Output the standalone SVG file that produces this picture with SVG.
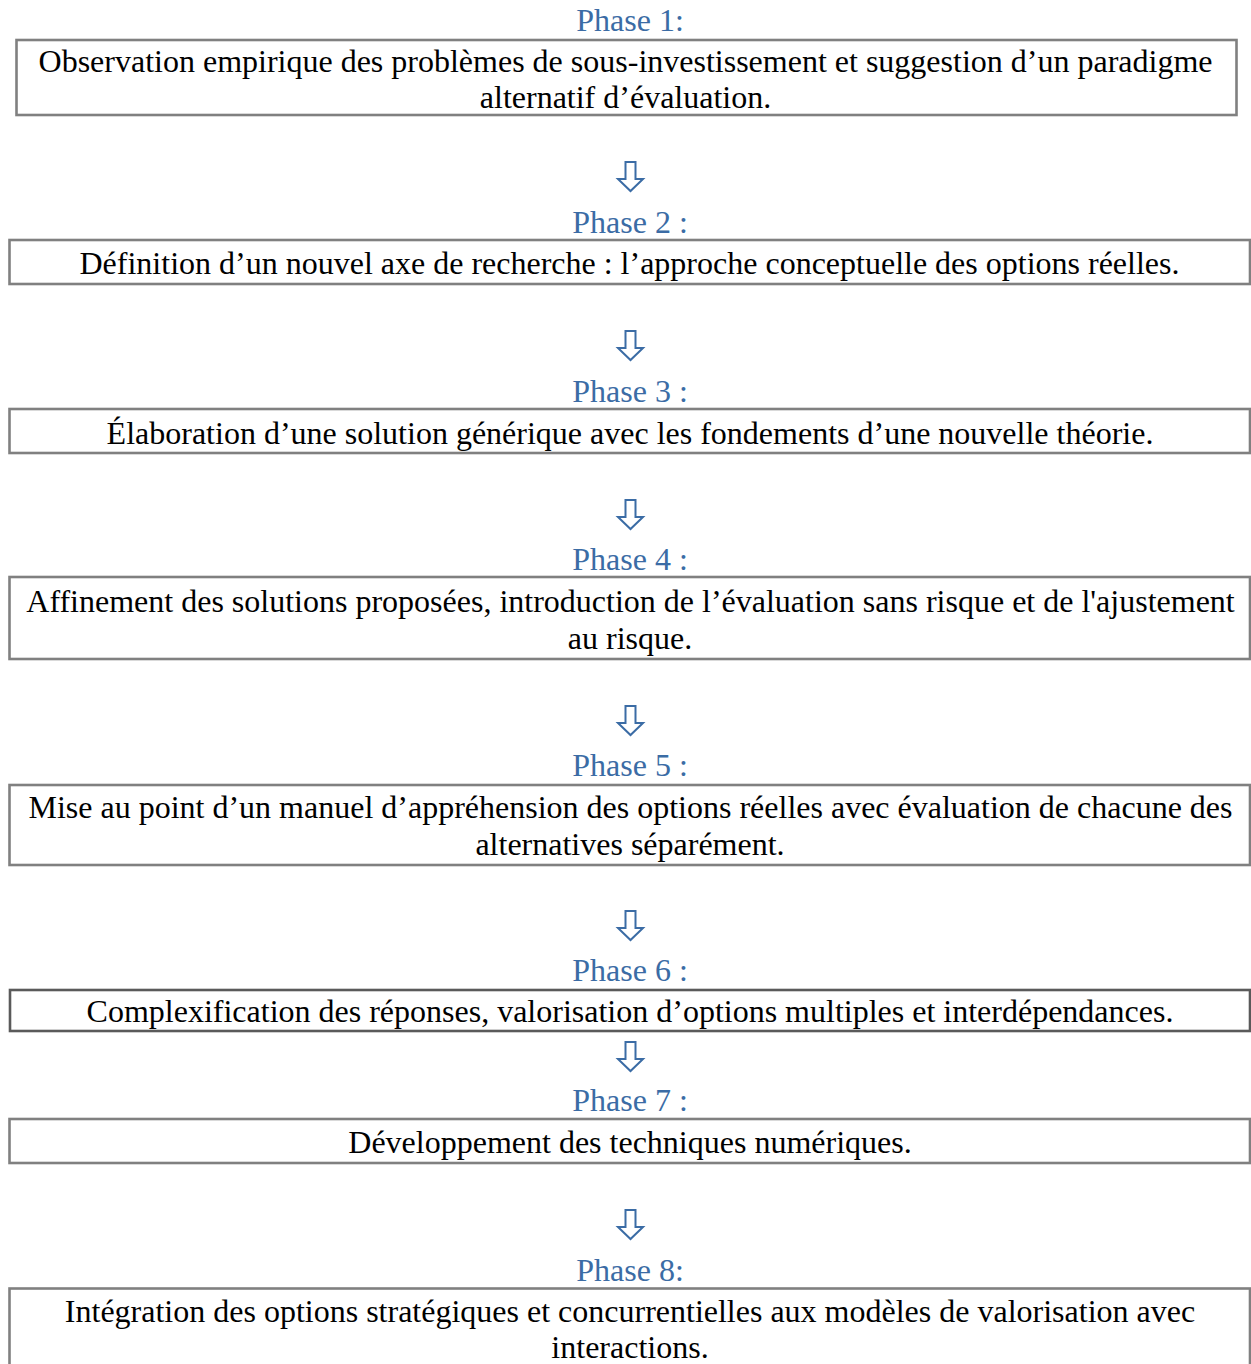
<svg xmlns="http://www.w3.org/2000/svg" xmlns:xlink="http://www.w3.org/1999/xlink" width="1251" height="1364" viewBox="0 0 1251 1364">
<style>
.box{fill:#ffffff;stroke:#808080;stroke-width:2.6}
.dark{stroke:#5a5a5a}
.t{font-family:"Liberation Serif","Times New Roman",serif;font-size:32px;fill:#000;text-anchor:middle}
.ph{font-family:"Liberation Serif","Times New Roman",serif;font-size:32px;fill:#3B6CA5;text-anchor:middle}
.arr{fill:#ffffff;stroke:#3B6CA5;stroke-width:2;stroke-linejoin:miter}
</style>
<defs>
<path id="down" class="arr" d="M625.5,0 H635.5 V17 H643 L630.5,29 L618,17 H625.5 Z"/>
</defs>
<rect width="1251" height="1364" fill="#ffffff"/>
<g id="connectors">
<use xlink:href="#down" y="162"/>
<use xlink:href="#down" y="331"/>
<use xlink:href="#down" y="500"/>
<use xlink:href="#down" y="706"/>
<use xlink:href="#down" y="911"/>
<use xlink:href="#down" y="1042"/>
<use xlink:href="#down" y="1210"/>
</g>
<g id="phase1">
<text class="ph" x="630" y="31">Phase 1:</text>
<rect class="box" x="16.5" y="40" width="1220" height="75"/>
<text class="t" x="625.5" y="72">Observation empirique des problèmes de sous-investissement et suggestion d’un paradigme</text>
<text class="t" x="625.5" y="108">alternatif d’évaluation.</text>
</g>
<g id="phase2">
<text class="ph" x="630" y="233">Phase 2 :</text>
<rect class="box" x="9.5" y="240" width="1240.5" height="44"/>
<text class="t" x="629.5" y="274">Définition d’un nouvel axe de recherche : l’approche conceptuelle des options réelles.</text>
</g>
<g id="phase3">
<text class="ph" x="630" y="402">Phase 3 :</text>
<rect class="box" x="9.5" y="409" width="1240.5" height="44"/>
<text class="t" x="630" y="444">Élaboration d’une solution générique avec les fondements d’une nouvelle théorie.</text>
</g>
<g id="phase4">
<text class="ph" x="630" y="570">Phase 4 :</text>
<rect class="box" x="9.5" y="577" width="1240.5" height="82"/>
<text class="t" x="630.5" y="612">Affinement des solutions proposées, introduction de l’évaluation sans risque et de l'ajustement</text>
<text class="t" x="630" y="649">au risque.</text>
</g>
<g id="phase5">
<text class="ph" x="630" y="776">Phase 5 :</text>
<rect class="box" x="9.5" y="785" width="1240.5" height="80"/>
<text class="t" x="630.5" y="818">Mise au point d’un manuel d’appréhension des options réelles avec évaluation de chacune des</text>
<text class="t" x="630" y="855">alternatives séparément.</text>
</g>
<g id="phase6">
<text class="ph" x="630" y="981">Phase 6 :</text>
<rect class="box dark" x="10" y="990" width="1240" height="41"/>
<text class="t" x="630" y="1022">Complexification des réponses, valorisation d’options multiples et interdépendances.</text>
</g>
<g id="phase7">
<text class="ph" x="630" y="1111">Phase 7 :</text>
<rect class="box" x="9.5" y="1119" width="1240.5" height="44"/>
<text class="t" x="630" y="1153">Développement des techniques numériques.</text>
</g>
<g id="phase8">
<text class="ph" x="630" y="1281">Phase 8:</text>
<rect class="box" x="9.5" y="1288.5" width="1240.5" height="90"/>
<text class="t" x="630" y="1322">Intégration des options stratégiques et concurrentielles aux modèles de valorisation avec</text>
<text class="t" x="630" y="1358">interactions.</text>
</g>
</svg>
